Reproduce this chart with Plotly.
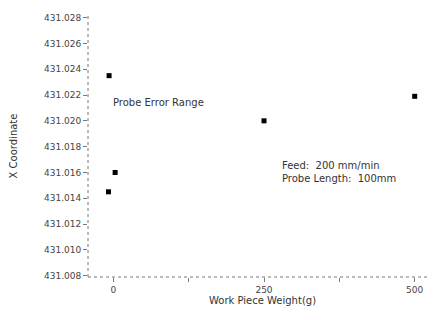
import plotly.graph_objects as go

# Data
weights = [-7, 3, -8, 250, 500]
x_coord = [431.0235, 431.0160, 431.0145, 431.0200, 431.0219]

y_tick_vals = [431.028, 431.026, 431.024, 431.022, 431.020, 431.018,
               431.016, 431.014, 431.012, 431.010, 431.008]
y_tick_text = ["431.028", "431.026", "431.024", "431.022", "431.020", "431.018",
               "431.016", "431.014", "431.012", "431.010", "431.008"]
x_tick_vals = [0, 125, 250, 375, 500]
x_tick_text = ["0", "", "250", "", "500"]

fig = go.Figure()
fig.add_trace(go.Scatter(
    x=weights, y=x_coord, mode="markers",
    marker=dict(symbol="square", size=5, color="black"),
    showlegend=False,
))

fig.add_annotation(x=0.066, y=0.667, xref="paper", yref="paper",
                   text="Probe Error Range", showarrow=False,
                   xanchor="left", yanchor="middle",
                   font=dict(size=10, color="#333"))
fig.add_annotation(x=0.55, y=0.40, xref="paper", yref="paper",
                   text="Feed:  200 mm/min<br>Probe Length:  100mm", showarrow=False,
                   xanchor="left", yanchor="middle", align="left",
                   font=dict(size=10, color="#333"))

# dotted axis lines
fig.add_shape(type="line", xref="paper", yref="paper", x0=0, x1=0, y0=0, y1=1,
              line=dict(color="#777", width=1, dash="dot"))
fig.add_shape(type="line", xref="paper", yref="paper", x0=0, x1=1, y0=0, y1=0,
              line=dict(color="#777", width=1, dash="dot"))

fig.update_layout(
    width=429, height=312,
    margin=dict(l=80, r=0, t=7, b=43, autoexpand=False),
    paper_bgcolor="white", plot_bgcolor="white",
    font=dict(family="DejaVu Sans", size=9, color="#444"),
    xaxis=dict(range=[-42, 537], tickvals=x_tick_vals, ticktext=x_tick_text,
               ticks="outside", ticklen=4, tickcolor="#777",
               showgrid=False, zeroline=False, showline=False, automargin=False,
               title=dict(text="Work Piece Weight(g)", font=dict(size=10, color="#333"), standoff=1)),
    yaxis=dict(range=[431.0079, 431.0282], tickvals=y_tick_vals, ticktext=y_tick_text,
               ticks="outside", ticklen=4, tickcolor="#777",
               showgrid=False, zeroline=False, showline=False, automargin=False,
               title=dict(text="X Coordinate", font=dict(size=10, color="#333"), standoff=26)),
)

fig.write_html("out.html")
